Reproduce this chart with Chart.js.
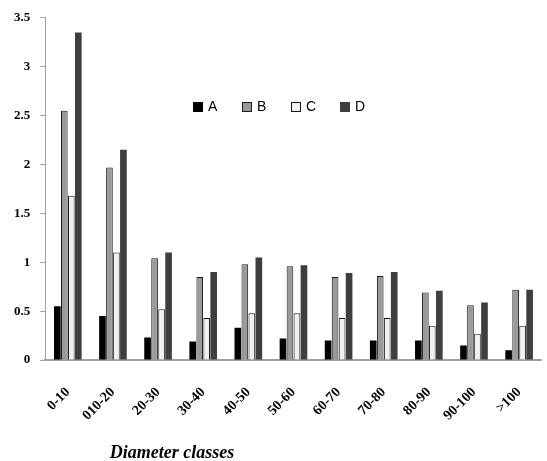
<!DOCTYPE html>
<html>
<head>
<meta charset="utf-8">
<script src="https://cdn.jsdelivr.net/npm/chart.js@4/dist/chart.umd.min.js"></script>
<style>
  body { margin: 0; background: #fff; }
  #wrap { width: 547px; height: 461px; }
</style>
</head>
<body>
<div id="wrap"><canvas id="chart" width="547" height="461"></canvas></div>
<script>
// diameter classes on the x axis
const categories = ["0-10", "010-20", "20-30", "30-40", "40-50", "50-60", "60-70", "70-80", "80-90", "90-100", ">100"];

// series values
const seriesA = [0.55, 0.45, 0.23, 0.19, 0.33, 0.22, 0.2, 0.2, 0.2, 0.15, 0.1];
const seriesB = [2.55, 1.97, 1.04, 0.85, 0.98, 0.96, 0.85, 0.86, 0.69, 0.56, 0.72];
const seriesC = [1.68, 1.1, 0.52, 0.43, 0.48, 0.48, 0.43, 0.43, 0.35, 0.27, 0.35];
const seriesD = [3.35, 2.15, 1.1, 0.9, 1.05, 0.97, 0.89, 0.9, 0.71, 0.59, 0.72];

const seriesNames = ["A", "B", "C", "D"];

// y axis ticks 0 .. 3.5
const yTicks = [0, 0.5, 1, 1.5, 2, 2.5, 3, 3.5];

const fills = ['#000000', '#9a9a9a', '#f0f0f0', '#3e3e3e'];
const borders = ['#000000', '#1a1a1a', '#1a1a1a', '#3e3e3e'];

// legend drawn inside the plot, like the original
const insideLegend = {
  id: 'insideLegend',
  afterDraw(chart) {
    const ctx = chart.ctx;
    ctx.save();
    ctx.font = '14px "Liberation Sans", Arial, sans-serif';
    ctx.textBaseline = 'middle';
    ctx.textAlign = 'left';
    seriesNames.forEach((name, i) => {
      const x = 193 + i * 49;
      const y = 102;
      ctx.fillStyle = fills[i];
      ctx.fillRect(x, y, 10, 10);
      ctx.strokeStyle = borders[i];
      ctx.lineWidth = 1;
      ctx.strokeRect(x + 0.5, y + 0.5, 9, 9);
      ctx.fillStyle = '#000';
      ctx.fillText(name, x + 15, y + 5);
    });
    ctx.restore();
  }
};

// x axis title, placed left of centre as in the original
const axisTitle = {
  id: 'axisTitle',
  afterDraw(chart) {
    const ctx = chart.ctx;
    ctx.save();
    ctx.font = 'italic bold 18px "Liberation Serif", "Times New Roman", serif';
    ctx.fillStyle = '#000';
    ctx.textAlign = 'center';
    ctx.textBaseline = 'middle';
    ctx.fillText('Diameter classes', 172, 453);
    ctx.restore();
  }
};

const ctx = document.getElementById('chart').getContext('2d');
new Chart(ctx, {
  type: 'bar',
  data: {
    labels: categories,
    datasets: [seriesA, seriesB, seriesC, seriesD].map((vals, i) => ({
      label: seriesNames[i],
      data: vals,
      backgroundColor: fills[i],
      borderColor: borders[i],
      borderWidth: i === 1 || i === 2 ? 1 : 0,
      categoryPercentage: 0.62,
      barPercentage: 0.95
    }))
  },
  options: {
    responsive: false,
    animation: false,
    layout: { padding: { top: 8, right: 0, bottom: 21, left: 4 } },
    plugins: {
      legend: { display: false },
      tooltip: { enabled: false }
    },
    scales: {
      x: {
        grid: { display: false },
        border: { color: '#a0a0a0', width: 2 },
        ticks: {
          color: '#000',
          font: { family: '"Liberation Serif", serif', size: 14, weight: 'bold' },
          minRotation: 45,
          maxRotation: 45,
          padding: 16
        }
      },
      y: {
        min: 0,
        max: 3.5,
        afterBuildTicks(axis) {
          axis.ticks = yTicks.map(v => ({ value: v }));
        },
        grid: { drawOnChartArea: false, color: '#a0a0a0', tickLength: 5 },
        border: { color: '#a0a0a0', width: 1 },
        ticks: {
          color: '#000',
          font: { family: '"Liberation Serif", serif', size: 13, weight: 'bold' },
          padding: 10,
          callback: v => String(v)
        }
      }
    }
  },
  plugins: [insideLegend, axisTitle]
});
</script>
</body>
</html>
